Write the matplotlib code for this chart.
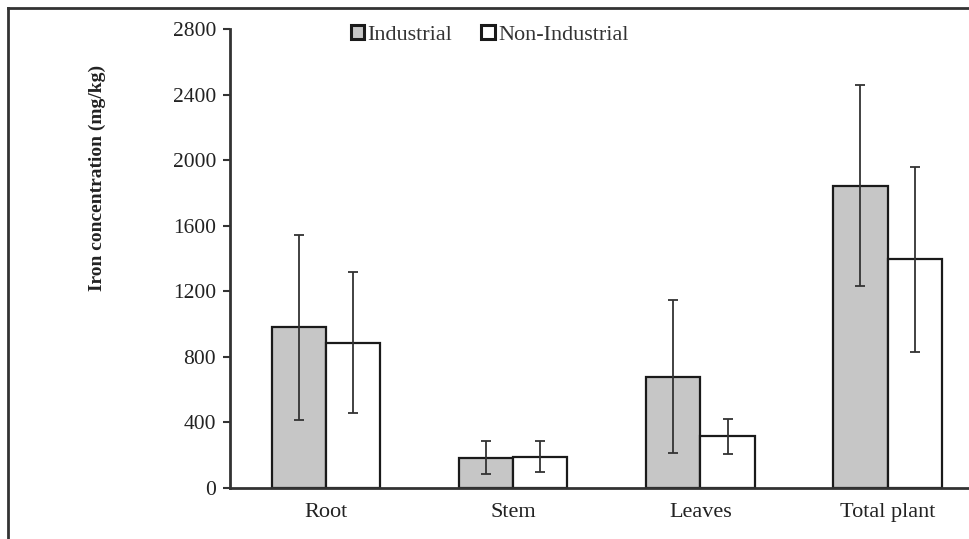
import matplotlib.pyplot as plt
import numpy as np
from matplotlib.lines import Line2D

plt.rcParams['font.family'] = ['Liberation Serif', 'DejaVu Serif']

parts = ["Root", "Stem", "Leaves", "Total plant"]
industrial = [980, 185, 680, 1845]
industrial_sd = [565, 100, 465, 615]
non_industrial = [885, 190, 315, 1395]
non_industrial_sd = [430, 95, 105, 565]
yticks = [0, 400, 800, 1200, 1600, 2000, 2400, 2800]

fig = plt.figure(figsize=(9.7, 5.39), dpi=100)
ax = fig.add_axes([230 / 970, 51 / 539, 740 / 970, 459 / 539])

x = np.arange(len(parts))
w = 0.29
ax.bar(x - w / 2, industrial, w, color='#c6c6c6', edgecolor='#1a1a1a',
       linewidth=1.6, label='Industrial', zorder=2)
ax.bar(x + w / 2, non_industrial, w, color='white', edgecolor='#1a1a1a',
       linewidth=1.6, label='Non-Industrial', zorder=2)
ax.errorbar(x - w / 2, industrial, yerr=industrial_sd, fmt='none',
            ecolor='#333333', elinewidth=1.3, capsize=3.5, capthick=1.3, zorder=3)
ax.errorbar(x + w / 2, non_industrial, yerr=non_industrial_sd, fmt='none',
            ecolor='#333333', elinewidth=1.3, capsize=3.5, capthick=1.3, zorder=3)

ax.set_xlim(-0.512, 3.44)
ax.set_ylim(0, 2800)
ax.set_yticks(yticks)
ax.set_yticklabels([str(v) for v in yticks], fontsize=15.5, color='#222222')
ax.set_xticks(x)
ax.set_xticklabels(parts, fontsize=16, color='#222222')
ax.tick_params(axis='x', length=0, pad=11)
ax.tick_params(axis='y', length=5, width=1.5, color='#333333', pad=5)
for s in ['top', 'right']:
    ax.spines[s].set_visible(False)
for s in ['left', 'bottom']:
    ax.spines[s].set_linewidth(2)
    ax.spines[s].set_color('#333333')

fig.text(97 / 970, 1 - 178 / 539, 'Iron concentration (mg/kg)', rotation=90,
         ha='center', va='center', fontsize=14, fontweight='bold', color='#222222')

leg = ax.legend(loc='center left', bbox_to_anchor=(351 / 970, 1 - 35 / 539),
                bbox_transform=fig.transFigure, ncol=2, frameon=False,
                fontsize=16, handlelength=0.6, handleheight=0.6,
                handletextpad=0.15, columnspacing=1.3, borderpad=0, borderaxespad=0)
for h in leg.legend_handles:
    h.set_linewidth(2.2)
for t in leg.get_texts():
    t.set_color('#333333')

# outer frame of the picture (top and left edges)
fig.add_artist(Line2D([8 / 970, 1], [1 - 8 / 539, 1 - 8 / 539],
                      transform=fig.transFigure, color='#333333', linewidth=2))
fig.add_artist(Line2D([8 / 970, 8 / 970], [0, 1 - 8 / 539],
                      transform=fig.transFigure, color='#333333', linewidth=2))

fig.savefig('out.png', dpi=100)
